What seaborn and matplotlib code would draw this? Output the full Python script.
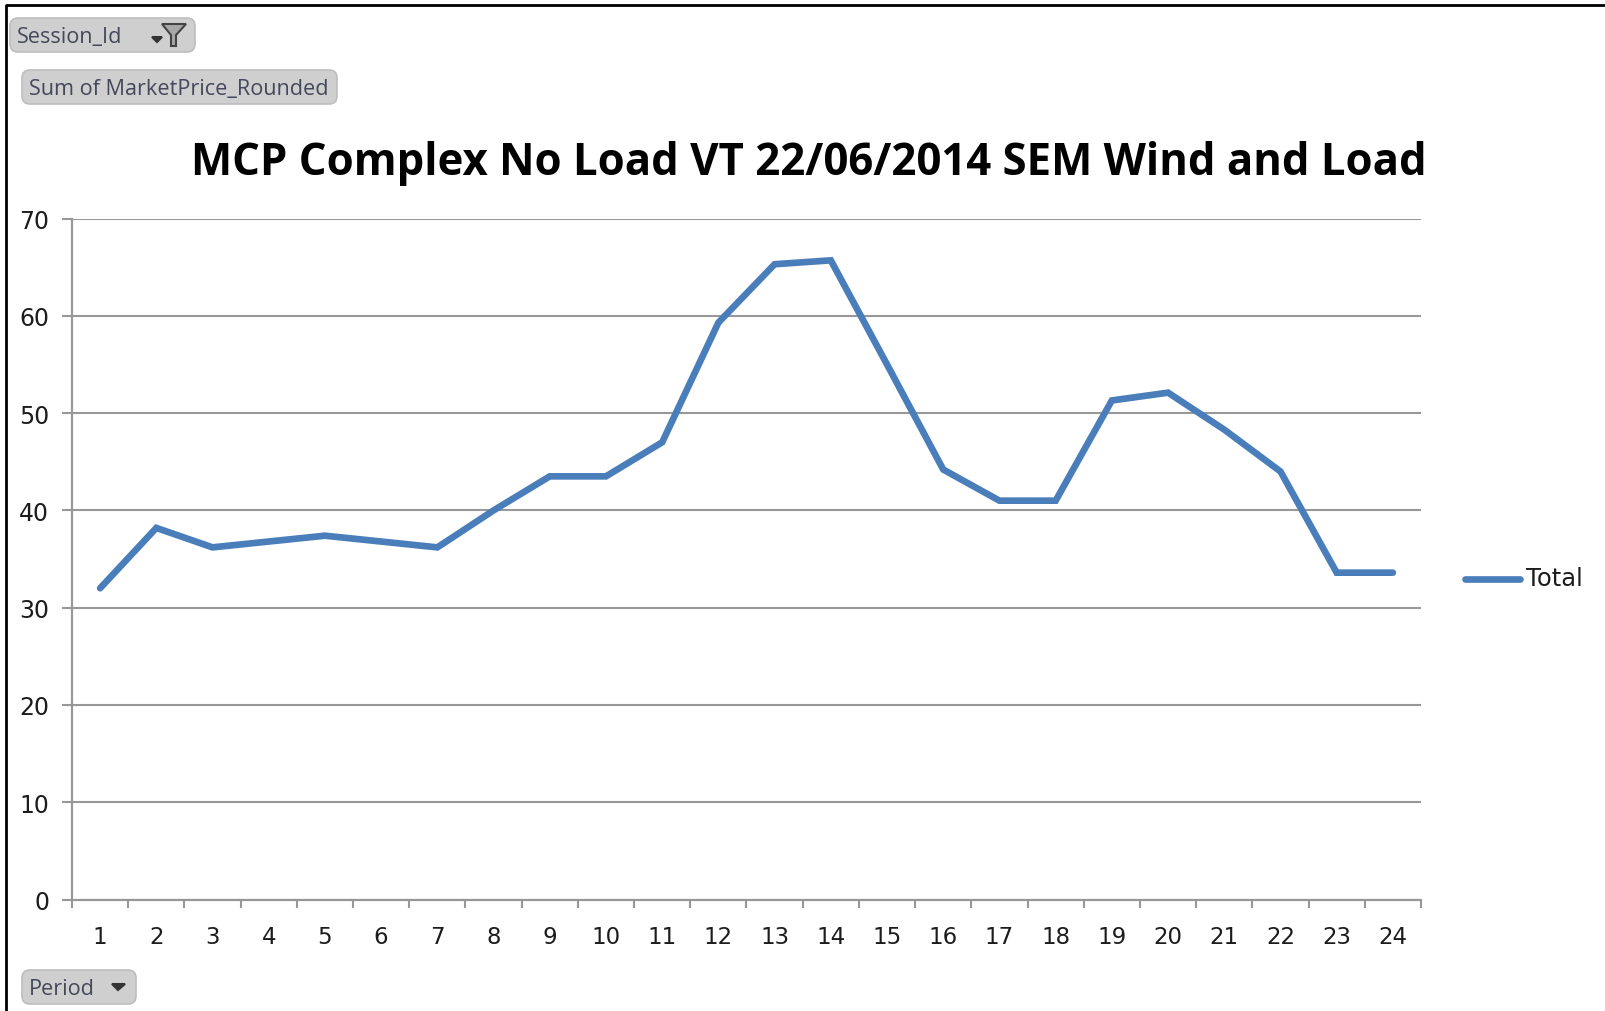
import numpy as np
import pandas as pd
import seaborn as sns
import matplotlib
matplotlib.use("Agg")
import matplotlib.pyplot as plt
from matplotlib.patches import FancyBboxPatch, Polygon
from matplotlib.lines import Line2D
from matplotlib.transforms import IdentityTransform

# values
periods = list(range(1, 25))
total = [32.0, 38.2, 36.2, 36.8, 37.4, 36.8, 36.2, 40.0, 43.5, 43.5, 47.0, 59.3,
         65.3, 65.7, 55.0, 44.2, 41.0, 41.0, 51.3, 52.1, 48.3, 44.0, 33.6, 33.6]
y_ticks = [0, 10, 20, 30, 40, 50, 60, 70]
title = "MCP Complex No Load VT 22/06/2014 SEM Wind and Load"

W, H = 1606, 1012
BLUE = "#4a7ebb"
GREY = "#989898"
TXT = "#1c1c1c"

sns.set_theme(style="white")
plt.rcParams["font.family"] = ["DejaVu Sans"]

fig = plt.figure(figsize=(W / 100, H / 100), dpi=100, facecolor="white")

# plot area in pixels of the reference
left, right, top, bottom = 72, 1421, 219.5, 900.6
ax = fig.add_axes([left / W, 1 - bottom / H, (right - left) / W, (bottom - top) / H])

df = pd.DataFrame({"Period": periods, "Total": total})
sns.lineplot(data=df, x="Period", y="Total", color=BLUE, lw=4.8, ax=ax, legend=False,
             solid_capstyle="round", solid_joinstyle="miter", errorbar=None)

ax.set_xlim(0.5, 24.5)
ax.set_ylim(0, 70)
ax.set_yticks(y_ticks)
ax.set_xticks(periods)
ax.set_xticks(np.arange(0.5, 25, 1), minor=True)
ax.set_xlabel("")
ax.set_ylabel("")
ax.grid(axis="y", color=GREY, lw=1.5)
ax.set_axisbelow(True)
sns.despine(ax=ax, top=True, right=True)
for s in ["left", "bottom"]:
    ax.spines[s].set_color(GREY)
    ax.spines[s].set_linewidth(1.6)
ax.tick_params(axis="x", which="major", bottom=False, length=0, pad=18.5, labelsize=16.5, labelcolor=TXT)
ax.tick_params(axis="x", which="minor", bottom=True, length=6, width=1.5, color=GREY, direction="out")
ax.tick_params(axis="y", which="major", left=True, length=7, width=1.5, color=GREY, direction="out",
               pad=9.5, labelsize=17, labelcolor=TXT)

def fx(x):
    return x / W

def fy(y):
    return 1 - y / H

# outer frame of the screenshot
fig.add_artist(Line2D([fx(6), fx(6), fx(W)], [fy(H), fy(6), fy(6)], color="black", lw=2.0))

fig.text(fx(809), fy(163), title, ha="center", va="center", fontsize=31.5,
         fontweight="bold", family="Open Sans", color="black")

# pivot field buttons
def button(x0, y0, x1, y1, label):
    p = FancyBboxPatch((x0 + 7, H - y1 + 7), x1 - x0 - 14, y1 - y0 - 14,
                       boxstyle="round,pad=7,rounding_size=8",
                       fc="#cfcfcf", ec="#bdbdbd", lw=1.2)
    p.set_transform(IdentityTransform())
    fig.add_artist(p)
    fig.text(fx(x0 + 7), fy((y0 + y1) / 2 + 1.5), label, ha="left", va="center",
             fontsize=15.6, color="#44485a", family="Open Sans")

button(10, 19, 195, 53, "Session_Id")
button(22, 71, 337, 105, "Sum of MarketPrice_Rounded")
button(22, 971, 136, 1005, "Period")

# dropdown arrows and filter funnel
def poly(points, color, edge=None):
    fig.add_artist(Polygon([(fx(a), fy(b)) for a, b in points], closed=True, fc=color,
                           ec=edge or color, lw=1.5, transform=fig.transFigure))

poly([(152, 38), (162, 38), (157, 43)], "#333333")
poly([(162, 25), (186, 25), (176, 36), (176, 47), (171, 47), (171, 36)], "#a8a8a8", "#444444")
poly([(112, 985), (125, 985), (118, 991)], "#333333")

# legend drawn by hand at its spot on the right
fig.add_artist(Line2D([fx(1465), fx(1520)], [fy(580), fy(580)], color=BLUE, lw=4.8,
                      solid_capstyle="round"))
fig.text(fx(1526), fy(579), "Total", ha="left", va="center", fontsize=17.5, color=TXT)

fig.savefig("out.png", dpi=100, facecolor="white")
